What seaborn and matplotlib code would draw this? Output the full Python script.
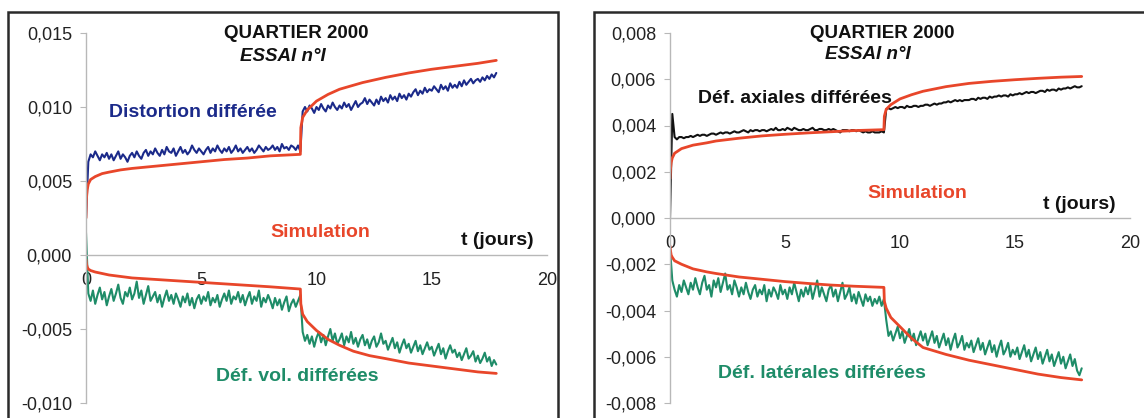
import numpy as np
import pandas as pd
import seaborn as sns
import matplotlib
matplotlib.use("Agg")
from matplotlib import pyplot as plt
from matplotlib.patches import Rectangle
from matplotlib.ticker import FuncFormatter, MultipleLocator

# ---- data (strains in units of 1e-4) ----
# measured curves, one sample every 0.1 day
t_gauche = np.round(np.arange(179) * 0.1, 1)   # 0 .. 17.8
t_droite = np.round(np.arange(180) * 0.1, 1)   # 0 .. 17.9

distorsion = [
    25, 63, 68, 66, 70, 67, 64, 68, 66, 69,
    65, 68, 64, 67, 70, 65, 68, 66, 63, 67,
    69, 66, 70, 67, 65, 69, 71, 67, 70, 68,
    72, 69, 67, 71, 68, 73, 70, 69, 72, 67,
    70, 73, 69, 71, 68, 70, 74, 71, 69, 72,
    70, 68, 71, 73, 69, 72, 70, 74, 71, 69,
    72, 70, 73, 69, 71, 74, 70, 72, 69, 71,
    73, 70, 72, 69, 71, 74, 72, 70, 73, 71,
    72, 74, 71, 73, 70, 75, 72, 73, 71, 74,
    73, 71, 74, 70, 97, 100, 97, 101, 99, 96,
    100, 98, 102, 99, 97, 101, 99, 103, 100, 98,
    101, 99, 103, 100, 102, 98, 101, 104, 100, 102,
    103, 106, 102, 105, 103, 101, 105, 102, 107, 104,
    106, 103, 108, 105, 107, 104, 109, 106, 108, 105,
    109, 107, 110, 112, 108, 111, 109, 113, 110, 112,
    111, 114, 112, 110, 115, 112, 114, 111, 116, 113,
    115, 113, 117, 114, 118, 115, 117, 119, 116, 118,
    119, 117, 120, 118, 121, 119, 122, 120, 123,
]
def_vol = [
    15, -26, -31, -24, -33, -27, -22, -30, -25, -34,
    -28, -23, -31, -26, -20, -29, -33, -25, -28, -22,
    -30, -26, -18, -29, -24, -33, -27, -21, -31, -28,
    -25, -32, -27, -35, -29, -24, -31, -27, -33, -26,
    -30, -35, -28, -32, -26, -34, -29, -36, -30, -27,
    -33, -28, -31, -25, -34, -29, -32, -27, -35, -30,
    -26, -31, -24, -33, -28, -30, -25, -32, -27, -34,
    -29, -25, -33, -28, -31, -24, -35, -29, -32, -27,
    -31, -36, -29, -34, -30, -37, -32, -28, -38, -33,
    -30, -35, -31, -27, -52, -58, -54, -60, -55, -62,
    -56, -52, -59, -54, -61, -55, -50, -58, -53, -60,
    -57, -53, -61, -55, -59, -52, -60, -56, -62, -57,
    -54, -61, -57, -63, -58, -55, -62, -59, -53, -60,
    -58, -64, -60, -56, -63, -59, -66, -61, -57, -63,
    -60, -66, -62, -58, -65, -61, -67, -63, -59, -64,
    -62, -68, -64, -60, -67, -63, -70, -65, -61, -66,
    -64, -69, -66, -71, -67, -63, -70, -68, -65, -72,
    -68, -73, -70, -66, -72, -69, -75, -71, -74,
]
def_axiale = [
    0, 45, 35, 34, 35, 35, 34.5, 35, 35, 35.5,
    35, 35.5, 36, 35.5, 36, 36, 35.5, 36, 36.5, 36.5,
    36, 36.5, 37, 36.5, 37, 37, 36.5, 37, 37.5, 37,
    37, 37.5, 38, 37.5, 37, 38, 37.5, 38, 38, 37.5,
    38, 38, 37.5, 38, 38.5, 38, 39, 38, 38, 38.5,
    38, 39, 38.5, 38, 39, 38.5, 38, 38, 38.5, 38,
    38, 38.5, 39, 38, 38, 38.5, 38.5, 38, 38, 38.5,
    38, 38.5, 38, 37.5, 37, 38, 38, 38, 37.5, 38,
    38, 37.5, 38, 37.5, 37, 37.5, 37, 37, 37.5, 37,
    37, 37, 37.5, 37, 47, 47.5, 47, 47.5, 48, 47.5,
    48, 48, 47.5, 48.5, 48, 48, 48.5, 48.5, 48, 48.5,
    48.5, 49, 49, 48.5, 49, 49.5, 49, 49.5, 49.5, 50,
    50, 50.5, 50, 50.5, 51, 50.5, 51, 50.5, 51, 51,
    51, 51.5, 51.5, 51, 52, 51.5, 52, 52, 51.5, 52.5,
    52, 52.5, 52.5, 53, 52.5, 53, 53, 52.5, 53.5, 53,
    53.5, 53.5, 54, 53.5, 54, 54.5, 54, 54.5, 54.5, 54,
    54.5, 55, 55, 54.5, 55.5, 55, 55.5, 55.5, 55, 56,
    55.5, 56, 56, 56.5, 56, 56.5, 57, 56.5, 56.5, 57,
]
def_laterale = [
    -13, -27, -31, -34, -29, -32, -27, -30, -33, -28,
    -31, -26, -30, -33, -28, -25, -31, -29, -34, -27,
    -30, -26, -32, -28, -24, -31, -29, -33, -27, -30,
    -34, -30, -33, -28, -32, -35, -31, -29, -34, -31,
    -33, -29, -36, -31, -34, -30, -32, -35, -29, -33,
    -31, -35, -30, -33, -28, -32, -36, -31, -34, -30,
    -33, -29, -35, -31, -27, -34, -30, -33, -36, -31,
    -29, -34, -31, -36, -32, -28, -35, -33, -30, -36,
    -33, -37, -32, -35, -38, -33, -36, -34, -38, -35,
    -37, -34, -38, -35, -44, -51, -49, -53, -50, -47,
    -52, -49, -54, -51, -48, -53, -50, -55, -52, -49,
    -53, -50, -55, -52, -49, -54, -51, -56, -53, -50,
    -55, -52, -57, -53, -50, -56, -54, -51, -57, -54,
    -56, -53, -58, -55, -52, -57, -54, -59, -56, -53,
    -58, -55, -60, -56, -53, -59, -57, -54, -60, -57,
    -59, -56, -61, -58, -55, -60, -57, -62, -59, -56,
    -61, -58, -63, -60, -57, -62, -59, -64, -61, -58,
    -63, -60, -65, -62, -59, -64, -61, -66, -68, -65,
]

# simulations (smooth curves, read at irregular times)
t_sim_g = [0, 0.02, 0.05, 0.1, 0.2, 0.4, 0.7, 1, 1.5, 2, 3, 4, 5, 6, 7, 8, 9.3,
           9.32, 9.4, 9.6, 10, 10.5, 11, 12, 13, 14, 15, 16, 17, 17.8]
sim_distorsion = [25, 38, 44, 48, 51, 53, 55, 56, 57.5, 58.5, 60, 61.5, 63, 64.5,
                  65.5, 67, 68, 86, 93, 98, 104, 108.5, 112, 116.5, 120, 123,
                  125.5, 127.5, 129.5, 131.5]
t_sim_g2 = [0, 0.02, 0.05, 0.1, 0.2, 0.4, 0.7, 1, 1.5, 2, 3, 4, 5, 6, 7, 8, 9.3,
            9.32, 9.4, 9.6, 10, 10.5, 11, 11.6, 12.3, 13, 14, 15, 16, 17, 17.8]
sim_vol = [-3, -6, -8, -9.5, -10.5, -11.5, -12.5, -13.5, -14.5, -15.5, -16.5,
           -17.5, -18.5, -19.5, -20.5, -21.5, -23, -33, -40, -45, -51, -57, -61,
           -65, -68, -70, -73, -75, -77, -79, -80]

t_sim_d = [0, 0.02, 0.05, 0.1, 0.2, 0.5, 1, 1.6, 2, 3, 4, 5, 6, 7, 8, 9.3,
           9.32, 9.4, 9.6, 10, 10.5, 11, 12, 13, 14, 15, 16, 17, 17.9]
sim_axiale = [17, 21, 24, 26, 28, 30, 31.5, 32.5, 33.3, 34.5, 35.5, 36.2, 36.8,
              37.3, 37.8, 38.2, 44, 47, 49, 51.5, 53.3, 54.8, 56.8, 58.2, 59.1,
              59.8, 60.4, 60.9, 61.2]
sim_laterale = [-12, -14, -16, -17, -18.5, -20, -22, -23.3, -24, -25.5, -26.5,
                -27.5, -28.3, -29, -29.5, -30, -36, -39, -43, -47, -52, -56, -59,
                -61.5, -63.5, -65.5, -67.5, -69, -70]

ECHELLE = 1e-4

BLEU = "#1b2a8a"
VERT = "#1e8c68"
ROUGE = "#e8462a"
NOIR = "#111111"
GRIS = "#b8b8b8"

sns.set_style("white")
plt.rcParams["font.family"] = ["Liberation Sans", "DejaVu Sans"]

fig = plt.figure(figsize=(11.44, 4.18), dpi=100)

# black frames around each chart
fig.add_artist(Rectangle((8 / 1144, -0.05), 550 / 1144, 1.05 - 12 / 418,
                         transform=fig.transFigure, fill=False,
                         edgecolor="#2a2a2a", lw=1.8))
fig.add_artist(Rectangle((594 / 1144, -0.05), 0.6, 1.05 - 12 / 418,
                         transform=fig.transFigure, fill=False,
                         edgecolor="#2a2a2a", lw=1.8))

ax_g = fig.add_axes([86 / 1144, 15 / 418, 461 / 1144, 370 / 418])
ax_d = fig.add_axes([670 / 1144, 15 / 418, 460 / 1144, 370 / 418])


def virgule(v, pos):
    if abs(v) < 1e-12:
        return "0,000"
    return f"{v:.3f}".replace(".", ",")


def habiller(ax, ymin, ymax, pas):
    ax.set_xlim(0, 20)
    ax.set_ylim(ymin, ymax)
    ax.patch.set_alpha(0)
    for s in ["top", "right"]:
        ax.spines[s].set_visible(False)
    ax.spines["bottom"].set_position(("data", 0))
    ax.spines["bottom"].set_color(GRIS)
    ax.spines["left"].set_color(GRIS)
    ax.spines["bottom"].set_linewidth(1.0)
    ax.spines["left"].set_linewidth(1.0)
    ax.xaxis.set_major_locator(MultipleLocator(5))
    ax.yaxis.set_major_locator(MultipleLocator(pas))
    ax.yaxis.set_major_formatter(FuncFormatter(virgule))
    ax.tick_params(axis="x", direction="inout", length=5, color=GRIS,
                   labelsize=13, labelcolor="#222222", pad=10)
    ax.tick_params(axis="y", direction="out", length=4, color=GRIS,
                   labelsize=13, labelcolor="#222222", pad=6, left=True)
    ax.set_xlabel("")
    ax.set_ylabel("")


def courbe(ax, t, v, couleur, lw):
    sns.lineplot(x=t, y=np.array(v) * ECHELLE, ax=ax, color=couleur, lw=lw,
                 estimator=None, sort=False, legend=False)


# ---- left: distortion / volumetric ----
courbe(ax_g, t_gauche, distorsion, BLEU, 1.5)
courbe(ax_g, t_gauche, def_vol, VERT, 1.5)
courbe(ax_g, t_sim_g, sim_distorsion, ROUGE, 2.0)
courbe(ax_g, t_sim_g2, sim_vol, ROUGE, 2.0)
habiller(ax_g, -0.010, 0.015, 0.005)

ax_g.text(9.1, 0.0150, "QUARTIER 2000", ha="center", va="center",
          fontsize=13.5, fontweight="bold", color=NOIR)
ax_g.text(8.55, 0.01338, "ESSAI n°I", ha="center", va="center",
          fontsize=13.5, fontweight="bold", fontstyle="italic", color=NOIR)
ax_g.text(1.0, 0.0096, "Distortion différée", ha="left", va="center",
          fontsize=14, fontweight="bold", color=BLEU)
ax_g.text(10.15, 0.00155, "Simulation", ha="center", va="center",
          fontsize=14, fontweight="bold", color=ROUGE)
ax_g.text(19.4, 0.00101, "t (jours)", ha="right", va="center",
          fontsize=14, fontweight="bold", color=NOIR)
ax_g.text(9.17, -0.00818, "Déf. vol. différées", ha="center", va="center",
          fontsize=14, fontweight="bold", color=VERT)

# ---- right: axial / lateral ----
courbe(ax_d, t_droite, def_axiale, NOIR, 1.5)
courbe(ax_d, t_droite, def_laterale, VERT, 1.5)
courbe(ax_d, t_sim_d, sim_axiale, ROUGE, 2.0)
courbe(ax_d, t_sim_d, sim_laterale, ROUGE, 2.0)
habiller(ax_d, -0.008, 0.008, 0.002)

ax_d.text(9.22, 0.0080, "QUARTIER 2000", ha="center", va="center",
          fontsize=13.5, fontweight="bold", color=NOIR)
ax_d.text(8.59, 0.00705, "ESSAI n°I", ha="center", va="center",
          fontsize=13.5, fontweight="bold", fontstyle="italic", color=NOIR)
ax_d.text(5.42, 0.00515, "Déf. axiales différées", ha="center", va="center",
          fontsize=14, fontweight="bold", color=NOIR)
ax_d.text(10.77, 0.00107, "Simulation", ha="center", va="center",
          fontsize=14, fontweight="bold", color=ROUGE)
ax_d.text(19.38, 0.0006, "t (jours)", ha="right", va="center",
          fontsize=14, fontweight="bold", color=NOIR)
ax_d.text(6.61, -0.00672, "Déf. latérales différées", ha="center", va="center",
          fontsize=14, fontweight="bold", color=VERT)

fig.savefig("out.png", dpi=100)
